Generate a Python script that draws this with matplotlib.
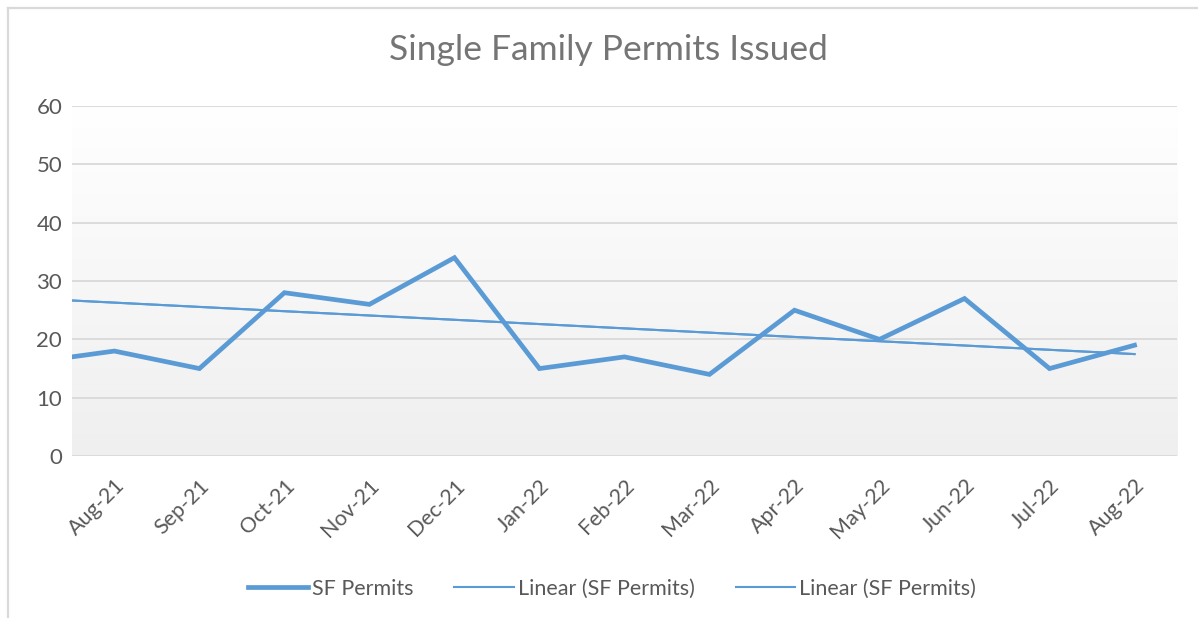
import matplotlib
matplotlib.use("Agg")
import matplotlib.pyplot as plt
import numpy as np
from matplotlib.lines import Line2D
from matplotlib.colors import LinearSegmentedColormap

months = ["Jul-21", "Aug-21", "Sep-21", "Oct-21", "Nov-21", "Dec-21", "Jan-22",
          "Feb-22", "Mar-22", "Apr-22", "May-22", "Jun-22", "Jul-22", "Aug-22"]
permits = [16, 18, 15, 28, 26, 34, 15, 17, 14, 25, 20, 27, 15, 19]
# linear trend (fitted in source workbook): value at Aug-21 and slope per month
trend_at_first = 26.3
trend_slope = -0.735
yticks = [0, 10, 20, 30, 40, 50, 60]

plt.rcParams['font.family'] = ['Lato', 'DejaVu Sans']
fig = plt.figure(figsize=(11.98, 6.18), dpi=100)
ax = fig.add_axes([0.060, 0.262, 0.9225, 0.5665])

x = np.arange(len(months)) - 1  # Jul-21 at -1 (outside visible range)
color = "#5B9BD5"

# gradient background: light gray at bottom -> white at top
grad = np.linspace(1.0, 0.0, 256).reshape(-1, 1)
cmap = LinearSegmentedColormap.from_list("g", ["#ffffff", "#efefef"])
ax.imshow(grad, cmap=cmap, aspect="auto", extent=[-0.5, 12.5, 0, 60],
          origin="lower", zorder=0, vmin=0, vmax=1)

for yt in yticks:
    ax.axhline(yt, color="#d9d9d9", lw=1.3, zorder=1)

ax.plot(x, permits, color=color, lw=3.4, solid_joinstyle="miter", zorder=3,
        label="SF Permits")
tx = np.array([-0.5, 12])
ty = trend_at_first + trend_slope * tx
ax.plot(tx, ty, color=color, lw=1.5, zorder=2, label="Linear (SF Permits)")
ax.plot(tx, ty, color=color, lw=1.5, zorder=2, label="Linear (SF Permits)")

ax.set_xlim(-0.5, 12.5)
ax.set_ylim(0, 60)
ax.set_yticks(yticks)
ax.set_yticklabels([str(v) for v in yticks], fontsize=16, color="#595959")
ax.set_xticks(np.arange(13))
ax.set_xticklabels(months[1:], rotation=45, ha="right", rotation_mode="anchor",
                   fontsize=15.5, color="#595959")
ax.tick_params(axis="y", length=0, pad=7)
ax.tick_params(axis="x", length=0, pad=14)
for s in ax.spines.values():
    s.set_visible(False)

fig.suptitle("Single Family Permits Issued", x=0.508, y=0.919, va="center",
             fontsize=25.5, color="#757575")

leg = fig.legend(loc="center", bbox_to_anchor=(0.511, 0.047), ncol=3, frameon=False,
                 fontsize=15.5, handlelength=2.75, columnspacing=1.9, handletextpad=0.2)
for t in leg.get_texts():
    t.set_color("#595959")

# chart frame: only top and left edges visible (cropped screenshot)
fx, fy = 7.5 / 1198, 1 - 7.5 / 618
fig.lines.append(Line2D([fx, 1.0], [fy, fy], transform=fig.transFigure,
                        color="#d9d9d9", lw=1.6))
fig.lines.append(Line2D([fx, fx], [0.0, fy], transform=fig.transFigure,
                        color="#d9d9d9", lw=1.6))

fig.savefig("out.png", dpi=100)
